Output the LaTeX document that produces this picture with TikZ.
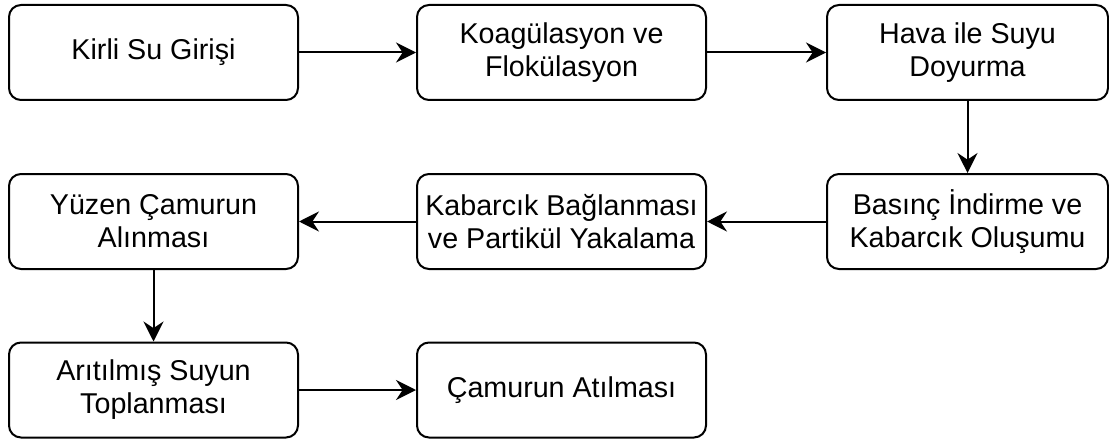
\documentclass[tikz,border=0pt]{standalone}
\usepackage{fontspec}
\setmainfont{Liberation Sans}
\usetikzlibrary{arrows.meta, positioning}

\begin{document}
\begin{tikzpicture}[x=0.75pt, y=-0.75pt,
  box/.style={draw=black, line width=1.5pt, rounded corners=9pt,
    minimum width=216.75pt, minimum height=71.25pt, align=center,
    font=\fontsize{21.5}{24.75}\selectfont},
  flow/.style={-{Stealth[length=15pt, width=15pt, inset=5pt]}, line width=1.5pt}]
  \useasboundingbox (0,0) rectangle (1109,442);

  % Row 1: inlet, coagulation, saturation
  \node[box] (inlet) at (153.5,52.5) {Kirli Su Girişi};
  \node[box] (coag) at (561.5,52.5) {Koagülasyon ve\\Flokülasyon};
  \node[box, minimum width=210.75pt] (sat) at (967.5,52.5) {Hava ile Suyu\\Doyurma};

  % Row 2: pressure release, attachment, skimming
  \node[box, minimum width=210.75pt] (bubble) at (967.5,221.5) {Basınç İndirme ve\\Kabarcık Oluşumu};
  \node[box] (attach) at (561.5,221.5) {Kabarcık Bağlanması\\ve Partikül Yakalama};
  \node[box] (skim) at (153.5,221.5) {Yüzen Çamurun\\Alınması};

  % Row 3: collection and disposal
  \node[box] (clean) at (153.5,390) {Arıtılmış Suyun\\Toplanması};
  \node[box] (sludge) at (561.5,390) {Çamurun Atılması};

  % Connectors
  \draw[flow] (inlet) -- (coag);
  \draw[flow] (coag) -- (sat);
  \draw[flow] (sat) -- (bubble);
  \draw[flow] (bubble) -- (attach);
  \draw[flow] (attach) -- (skim);
  \draw[flow] (skim) -- (clean);
  \draw[flow] (clean) -- (sludge);
\end{tikzpicture}
\end{document}
